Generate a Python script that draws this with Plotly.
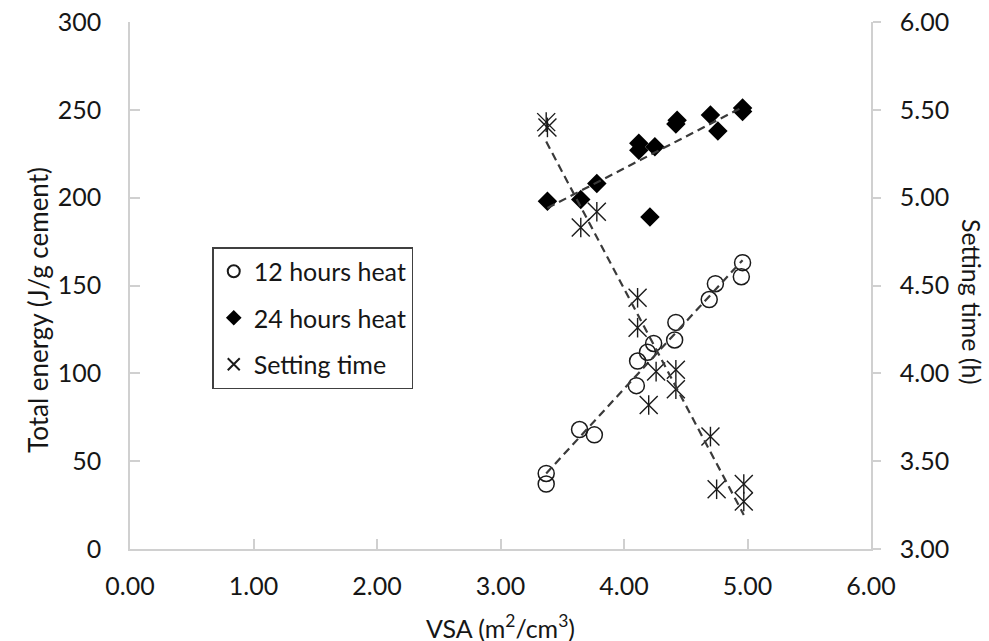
import numpy as np
import plotly.graph_objects as go

# ---- data ----
vsa_12h = [3.37, 3.37, 3.64, 3.76, 4.10, 4.11, 4.19, 4.24, 4.41, 4.42, 4.69, 4.74, 4.95, 4.96]
heat_12h = [43, 37, 68, 65, 93, 107, 112, 117, 119, 129, 142, 151, 155, 163]

vsa_24h = [3.38, 3.65, 3.78, 4.12, 4.12, 4.25, 4.21, 4.42, 4.43, 4.70, 4.76, 4.96, 4.96]
heat_24h = [198, 199, 208, 231, 227, 229, 189, 242, 244, 247, 238, 251, 249]

vsa_set = [3.37, 3.38, 3.65, 3.78, 4.11, 4.11, 4.26, 4.20, 4.42, 4.42, 4.70, 4.75, 4.97, 4.97]
set_time = [5.43, 5.40, 4.83, 4.92, 4.43, 4.26, 4.01, 3.82, 4.02, 3.91, 3.64, 3.34, 3.37, 3.27]

x_title = "VSA (m<sup>2</sup>/cm<sup>3</sup>)"
y_title = "Total energy (J/g cement)"
y2_title = "Setting time (h)"
names = ["12 hours heat", "24 hours heat", "Setting time"]

FONT = "Lato"
TXT = "#161616"
AX = "#d0d0d0"
TREND = "#3a3a3a"


def trend(xs, ys):
    k, b = np.polyfit(xs, ys, 1)
    xx = np.array([min(xs), max(xs)])
    return xx, k * xx + b


fig = go.Figure()

fig.add_trace(go.Scatter(
    x=vsa_12h, y=heat_12h, mode="markers", name=names[0], legendgroup="a",
    marker=dict(symbol="circle-open", size=16, color="#1a1a1a", line=dict(width=1.5)),
))
fig.add_trace(go.Scatter(
    x=vsa_24h, y=heat_24h, mode="markers", name=names[1], legendgroup="b",
    marker=dict(symbol="diamond", size=15, color="#000000", line=dict(width=0)),
))
fig.add_trace(go.Scatter(
    x=vsa_set, y=set_time, mode="markers", name=names[2], legendgroup="c", yaxis="y2",
    marker=dict(symbol="x-thin-open", size=18, color="#1a1a1a", line=dict(width=1.4, color="#1a1a1a")),
))
fig.add_trace(go.Scatter(
    x=vsa_set, y=set_time, mode="markers", name=names[2], legendgroup="c", yaxis="y2",
    showlegend=False,
    marker=dict(symbol="line-ns-open", size=14, color="#1a1a1a", line=dict(width=1.4, color="#1a1a1a")),
))

# trendlines (linear fits), drawn over markers
for xs, ys, ax in [(vsa_12h, heat_12h, "y"), (vsa_24h, heat_24h, "y"), (vsa_set, set_time, "y2")]:
    tx, ty = trend(xs, ys)
    fig.add_trace(go.Scatter(
        x=tx, y=ty, mode="lines", yaxis=ax, showlegend=False, hoverinfo="skip",
        line=dict(color=TREND, width=2.2, dash="8px,5px"),
    ))

axis_common = dict(showgrid=False, zeroline=False, showline=True, linecolor=AX, linewidth=1.5,
                   tickcolor=AX, tickwidth=1.5, automargin=False,
                   tickfont=dict(family=FONT, size=25, color=TXT))

fig.update_layout(
    width=989, height=641,
    margin=dict(l=130, r=118, t=22, b=92, autoexpand=False),
    paper_bgcolor="white", plot_bgcolor="white",
    font=dict(family=FONT, size=25, color=TXT),
    xaxis=dict(range=[0, 6], dtick=1, tick0=0, tickformat=".2f", ticks="inside", ticklen=10,
               ticklabelstandoff=14, **axis_common),
    yaxis=dict(range=[0, 300], dtick=50, tick0=0, ticks="inside", ticklen=10,
               ticklabelstandoff=22, **axis_common),
    yaxis2=dict(range=[3, 6], dtick=0.5, tick0=3, tickformat=".2f", overlaying="y", side="right",
                ticks="outside", ticklen=8, ticklabelstandoff=14, **axis_common),
    showlegend=True,
    legend=dict(x=0.111, y=0.573, xanchor="left", yanchor="top",
                bordercolor="#404040", borderwidth=1.5, bgcolor="white",
                font=dict(family=FONT, size=25, color=TXT),
                itemsizing="constant", traceorder="grouped", tracegroupgap=11),
    annotations=[
        dict(text=x_title, xref="paper", yref="paper", x=0.5, y=(549 - 608) / 527,
             xanchor="center", yanchor="top", showarrow=False,
             font=dict(family=FONT, size=25, color=TXT)),
        dict(text=y_title, xref="paper", yref="paper", x=(38 - 130) / 741, y=(549 - 310) / 527,
             xanchor="center", yanchor="middle", showarrow=False, textangle=-90,
             font=dict(family=FONT, size=26, color=TXT)),
        dict(text=y2_title, xref="paper", yref="paper", x=(972 - 130) / 741, y=(549 - 302) / 527,
             xanchor="center", yanchor="middle", showarrow=False, textangle=90,
             font=dict(family=FONT, size=25, color=TXT)),
    ],
)

fig.write_html("out.html")
